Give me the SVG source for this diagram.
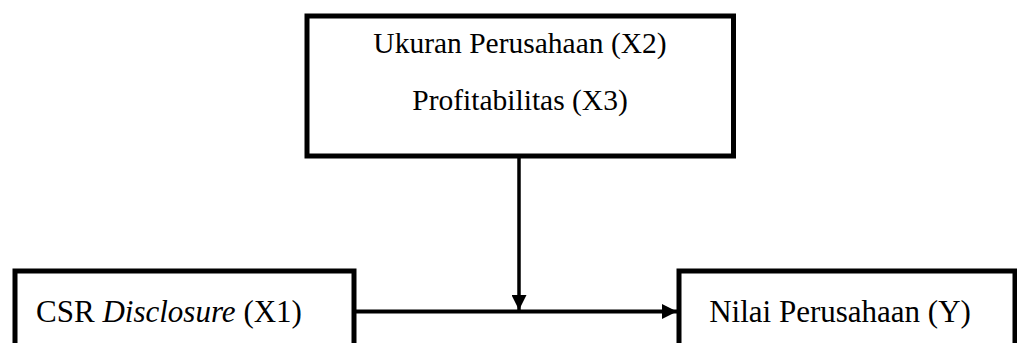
<svg xmlns="http://www.w3.org/2000/svg" width="1017" height="343" viewBox="0 0 1017 343">
<style>
.box{fill:#fff;stroke:#000;stroke-width:5}
.t{font-family:"Liberation Serif","Times New Roman",serif;font-size:29.5px;fill:#000;text-anchor:middle}
.b{font-size:31px}
.c{stroke:#000;fill:none}
</style>
<defs>
<marker id="ah" viewBox="0 0 10 10" refX="10" refY="5" markerWidth="16" markerHeight="15" markerUnits="userSpaceOnUse" orient="auto">
<path d="M0,0 L10,5 L0,10 z" fill="#000"/>
</marker>
</defs>
<g id="node-top">
<rect class="box" x="307" y="16" width="426.5" height="140"/>
<text class="t" x="520" y="53">Ukuran Perusahaan (X2)</text>
<text class="t" x="520" y="110">Profitabilitas (X3)</text>
</g>
<g id="node-csr">
<rect class="box" x="15" y="271" width="339" height="100"/>
<text class="t b" x="169" y="322">CSR <tspan font-style="italic">Disclosure</tspan> (X1)</text>
</g>
<g id="node-nilai">
<rect class="box" x="679" y="271" width="336" height="100"/>
<text class="t b" x="840" y="322">Nilai Perusahaan (Y)</text>
</g>
<g id="connectors">
<line class="c" stroke-width="3.5" x1="519" y1="158" x2="519" y2="310" marker-end="url(#ah)"/>
<line class="c" stroke-width="4" x1="356" y1="311.5" x2="677" y2="311.5" marker-end="url(#ah)"/>
</g>
</svg>
